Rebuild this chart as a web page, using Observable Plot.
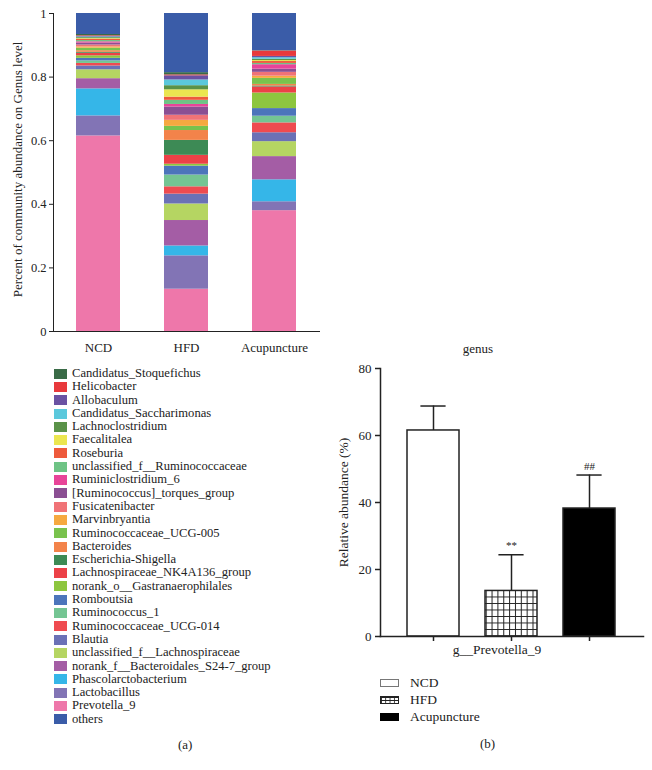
<!DOCTYPE html>
<html><head><meta charset="utf-8">
<script src="https://cdn.jsdelivr.net/npm/d3@7"></script>
<script src="https://cdn.jsdelivr.net/npm/@observablehq/plot@0.6"></script>
<style>
body{margin:0;background:#fff;font-family:'Liberation Serif','DejaVu Serif',serif;color:#222;}
#page{position:relative;width:652px;height:770px;overflow:hidden;}
.abs{position:absolute;}
#chartA{left:0;top:0;}
#chartB{left:320px;top:330px;}
#legendA{left:54px;top:367px;font-size:12.6px;}
.rowA{height:13.3px;line-height:13.3px;display:flex;align-items:center;white-space:nowrap;}
.swA{width:13px;height:10px;margin-right:5px;flex:none;}
#legendB{left:380px;top:675px;font-size:13.5px;}
.rowB{height:16.8px;line-height:16.8px;display:flex;align-items:center;white-space:nowrap;}
.swB{width:19px;height:8px;margin-right:11px;flex:none;box-sizing:border-box;}
.panel{font-size:13px;}
svg text{fill:#222;font-family:'Liberation Serif','DejaVu Serif',serif;}
</style></head><body><div id="page">
<div id="chartA" class="abs"></div>
<div id="chartB" class="abs"></div>
<div id="legendA" class="abs"></div>
<div id="legendB" class="abs"></div>
<div class="abs panel" style="left:178px;top:737px;">(a)</div>
<div class="abs panel" style="left:480px;top:736px;">(b)</div>
</div>
<script>
// ---------- Panel (a) data ----------
const groups = ["NCD", "HFD", "Acupuncture"];
// stacking order, bottom to top
const genera = ["Prevotella_9","Lactobacillus","Phascolarctobacterium","norank_f__Bacteroidales_S24-7_group",
 "unclassified_f__Lachnospiraceae","Blautia","Ruminococcaceae_UCG-014","Ruminococcus_1","Romboutsia",
 "norank_o__Gastranaerophilales","Lachnospiraceae_NK4A136_group","Escherichia-Shigella","Bacteroides",
 "Ruminococcaceae_UCG-005","Marvinbryantia","Fusicatenibacter","[Ruminococcus]_torques_group",
 "Ruminiclostridium_6","unclassified_f__Ruminococcaceae","Roseburia","Faecalitalea","Lachnoclostridium",
 "Candidatus_Saccharimonas","Allobaculum","Helicobacter","Candidatus_Stoquefichus","others"];
const genusColors = ["#ee77aa","#8274b5","#35b6e8","#a45da5",
 "#b5d562","#6b71b6","#ef4b50","#74c593","#4c75bb",
 "#8dc63f","#ec4147","#3d8a55","#f3834a",
 "#79c24d","#f6a940","#f07377","#8b4f93",
 "#e84499","#6ec385","#ee5a3c","#ebe650","#5a9248",
 "#5bc8dc","#6a52a3","#e8393c","#3a6b47","#3a5ca8"];
const ncdValues = [0.615,0.063,0.085,0.032,0.028,0.012,0.008,0.008,0.008,0.008,0.008,0.003,0.005,0.008,0.004,0.006,0.006,0.004,0.004,0.004,0.002,0.003,0.002,0.002,0.002,0.004,0.066];
const hfdValues = [0.133,0.105,0.031,0.080,0.052,0.031,0.023,0.037,0.028,0.006,0.028,0.047,0.031,0.013,0.019,0.016,0.026,0.008,0.013,0.010,0.023,0.013,0.018,0.013,0.003,0.007,0.186];
const acuValues = [0.380,0.028,0.069,0.073,0.047,0.028,0.031,0.021,0.024,0.049,0.019,0.003,0.005,0.019,0.007,0.012,0.010,0.014,0.004,0.006,0.003,0.004,0.005,0.004,0.017,0.001,0.117];
const legendOrder = ["Candidatus_Stoquefichus","Helicobacter","Allobaculum","Candidatus_Saccharimonas",
 "Lachnoclostridium","Faecalitalea","Roseburia","unclassified_f__Ruminococcaceae","Ruminiclostridium_6",
 "[Ruminococcus]_torques_group","Fusicatenibacter","Marvinbryantia","Ruminococcaceae_UCG-005","Bacteroides",
 "Escherichia-Shigella","Lachnospiraceae_NK4A136_group","norank_o__Gastranaerophilales","Romboutsia",
 "Ruminococcus_1","Ruminococcaceae_UCG-014","Blautia","unclassified_f__Lachnospiraceae",
 "norank_f__Bacteroidales_S24-7_group","Phascolarctobacterium","Lactobacillus","Prevotella_9","others"];
const yTicksA = [0, 0.2, 0.4, 0.6, 0.8, 1];
const yTitleA = "Percent of community abundance on Genus level";

// ---------- Panel (b) data ----------
const genusB = "g__Prevotella_9";
const meanAbundance = [61.5, 13.6, 38.2];
const sdAbundance = [7.3, 10.8, 10.0];
const signif = ["", "**", "##"];
const yTicksB = [0, 20, 40, 60, 80];
const barFills = ["white", "url(#hfdGrid)", "black"];

const font = "'Liberation Serif', 'DejaVu Serif', serif";

// ---------- build (a) ----------
const seriesA = [ncdValues, hfdValues, acuValues];
const stackData = [];
groups.forEach((g, gi) => genera.forEach((s, si) => stackData.push({group: g, genus: s, value: seriesA[gi][si]})));

const chartA = Plot.plot({
  width: 330, height: 360,
  marginLeft: 53, marginRight: 11, marginTop: 13, marginBottom: 29,
  style: {fontFamily: font, fontSize: "12.5px", color: "#222", background: "white"},
  x: {domain: groups, paddingInner: 0.5, paddingOuter: 0.25, label: null},
  y: {domain: [0, 1], label: null},
  color: {domain: genera, range: genusColors},
  marks: [
    Plot.barY(stackData, {x: "group", y: "value", fill: "genus"}),
    Plot.frame({anchor: "left", stroke: "#222"}),
    Plot.frame({anchor: "bottom", stroke: "#222"}),
    Plot.axisY({ticks: yTicksA, tickFormat: d => String(d), tickSize: 4, tickPadding: 3, label: null}),
    Plot.axisX({tickSize: 0, tickPadding: 11, label: null, fontSize: 13}),
    Plot.text([yTitleA], {frameAnchor: "left", rotate: -90, dx: -36, dy: -3, fontSize: 13, textAnchor: "middle", fill: "#222"})
  ]
});
document.getElementById("chartA").appendChild(chartA);

// legend (a)
const colorOf = new Map(genera.map((g, i) => [g, genusColors[i]]));
const legA = document.getElementById("legendA");
legendOrder.forEach(name => {
  const row = document.createElement("div"); row.className = "rowA";
  const sw = document.createElement("span"); sw.className = "swA"; sw.style.background = colorOf.get(name);
  const tx = document.createElement("span"); tx.textContent = name;
  row.appendChild(sw); row.appendChild(tx); legA.appendChild(row);
});

// ---------- build (b) ----------
const bData = groups.map((g, i) => ({group: g, mean: meanAbundance[i], sd: sdAbundance[i], sig: signif[i]}));
const hatchDefs = () => {
  const ns = "http://www.w3.org/2000/svg";
  const defs = document.createElementNS(ns, "defs");
  defs.innerHTML = '<pattern id="hfdGrid" patternUnits="userSpaceOnUse" x="165.7" y="0" width="5.85" height="6.5">' +
    '<rect width="5.85" height="6.5" fill="white"/>' +
    '<path d="M0 0.5H5.85M0.5 0V6.5" stroke="#222" stroke-width="1" fill="none"/></pattern>';
  return defs;
};
const chartB = Plot.plot({
  width: 332, height: 340,
  marginLeft: 60, marginRight: 9, marginTop: 38, marginBottom: 34,
  style: {fontFamily: font, fontSize: "13px", color: "#222", background: "white"},
  x: {domain: groups, paddingInner: 0.333, paddingOuter: 0.338, label: null},
  y: {domain: [0, 80], label: null},
  color: {type: "ordinal", domain: groups, range: barFills},
  marks: [
    hatchDefs,
    Plot.ruleX(bData, {x: "group", y1: "mean", y2: d => d.mean + d.sd, stroke: "#222", strokeWidth: 1.5}),
    Plot.tickY(bData, {x: "group", y: d => d.mean + d.sd, insetLeft: 13.4, insetRight: 13.4, stroke: "#222", strokeWidth: 1.5}),
    Plot.barY(bData, {x: "group", y: "mean", fill: "group", stroke: "#222", strokeWidth: 1.5}),
    Plot.text(bData, {x: "group", y: d => d.mean + d.sd, text: "sig", dy: -9, fontSize: 11, fill: "#222"}),
    Plot.frame({anchor: "left", stroke: "#222", strokeWidth: 1.5}),
    Plot.frame({anchor: "bottom", stroke: "#222", strokeWidth: 1.5}),
    Plot.axisY({ticks: yTicksB, tickSize: 5, tickPadding: 4, label: null, strokeWidth: 1.5}),
    Plot.axisX({tickSize: 5, tickFormat: () => "", label: null, strokeWidth: 1.5}),
    Plot.text([genusB], {frameAnchor: "bottom", dy: 17, dx: -15, fontSize: 13.5, fill: "#222"}),
    Plot.text(["genus"], {frameAnchor: "top", dy: -25, dx: -34, fontSize: 13, fill: "#222"}),
    Plot.text(["Relative abundance (%)"], {frameAnchor: "left", rotate: -90, dx: -37, fontSize: 13.5, textAnchor: "middle", fill: "#222"})
  ]
});
document.getElementById("chartB").appendChild(chartB);

// legend (b)
const legB = document.getElementById("legendB");
groups.forEach((g, i) => {
  const row = document.createElement("div"); row.className = "rowB";
  const sw = document.createElement("span"); sw.className = "swB";
  if (i === 0) { sw.style.border = "1px solid #777"; sw.style.background = "white"; }
  else if (i === 1) {
    sw.style.border = "1px solid #222";
    sw.style.backgroundColor = "white";
    sw.style.backgroundImage = "linear-gradient(to right, #222 1px, transparent 1px), linear-gradient(to bottom, #222 1px, transparent 1px)";
    sw.style.backgroundSize = "4.3px 3px";
  } else { sw.style.background = "black"; }
  const tx = document.createElement("span"); tx.textContent = g;
  row.appendChild(sw); row.appendChild(tx); legB.appendChild(row);
});
</script>
</body></html>
